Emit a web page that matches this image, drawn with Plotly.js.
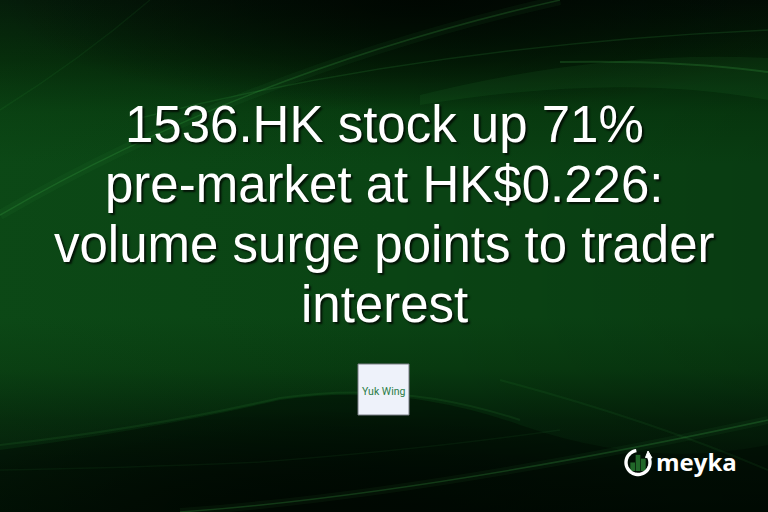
<!DOCTYPE html>
<html>
<head>
<meta charset="utf-8">
<script src="https://cdn.plot.ly/plotly-3.0.1.min.js"></script>
<style>
  html, body { margin: 0; padding: 0; background: #010a03; }
  #card {
    width: 768px; height: 512px;
    background:
      radial-gradient(ellipse 55% 22% at 55% 0%, rgba(0,6,1,0.9) 0%, rgba(0,6,1,0) 100%),
      radial-gradient(ellipse 50% 20% at 40% 100%, rgba(0,6,1,0.8) 0%, rgba(0,6,1,0) 100%),
      linear-gradient(90deg, rgba(20,90,30,0.18) 0%, rgba(0,0,0,0) 50%, rgba(0,0,0,0.12) 100%),
      linear-gradient(180deg, #021006 0%, #042508 12%, #083c10 22%, #0a4414 32%, #0a4414 62%, #083a10 72%, #04230a 82%, #021206 92%, #010c03 100%);
  }
</style>
</head>
<body>
<div id="card"></div>
<script>
const titleLines = [
  '1536.HK stock up 71%',
  'pre-market at HK$0.226:',
  'volume surge points to trader',
  'interest'
];
const companyLabel = 'Yuk Wing';
const brandName = 'meyka';
const logoBars = [0.45, 0.85, 0.65];
const logoBarNames = ['a', 'b', 'c'];

const W = 768, H = 512;

const annotations = titleLines.map((line, i) => ({
  xref: 'x', yref: 'y',
  x: 384, y: 124 + i * 60,
  xanchor: 'center', yanchor: 'middle',
  text: line,
  showarrow: false,
  font: {
    family: 'Liberation Sans, Arial, sans-serif',
    size: 51,
    color: '#ffffff',
    shadow: '2px 2px 2px rgba(0,0,0,0.75)'
  }
}));

annotations.push({
  xref: 'x', yref: 'y', x: 383.5, y: 391,
  xanchor: 'center', yanchor: 'middle',
  text: companyLabel, showarrow: false,
  font: {family: 'Roboto, Noto Sans, sans-serif', size: 10.5, color: '#2b7c47'}
});

annotations.push({
  xref: 'x', yref: 'y', x: 654, y: 461,
  xanchor: 'left', yanchor: 'middle',
  text: '<b>' + brandName + '</b>', showarrow: false,
  font: {family: 'Open Sans, Roboto, sans-serif', size: 24, color: '#ffffff'}
});

// ring of the brand mark, open at the top right
const cx = 638, cy = 462.5, r = 12;
let ring = '';
for (let a = -25; a <= 268; a += 7) {
  const t = a * Math.PI / 180;
  ring += (ring ? ' L ' : 'M ') + (cx + r * Math.cos(t)).toFixed(2) + ',' + (cy + r * Math.sin(t)).toFixed(2);
}

const glow = 'rgba(70,190,80,';
const shapes = [
  // upper swooshes
  {type: 'path', xref: 'x', yref: 'y', path: 'M 0,215 Q 250,70 560,0', line: {color: glow + '0.06)', width: 10}},
  {type: 'path', xref: 'x', yref: 'y', path: 'M 0,215 Q 250,70 560,0', line: {color: glow + '0.2)', width: 1.5}},
  {type: 'path', xref: 'x', yref: 'y', path: 'M 0,110 Q 80,60 150,0', line: {color: glow + '0.08)', width: 1.5}},
  {type: 'path', xref: 'x', yref: 'y', path: 'M 140,118 Q 430,45 768,30', line: {color: glow + '0.15)', width: 1.5}},
  {type: 'path', xref: 'x', yref: 'y', path: 'M 420,95 Q 600,50 768,58 L 768,100 Q 620,72 420,105 Z',
   fillcolor: glow + '0.08)', line: {width: 0}},
  {type: 'path', xref: 'x', yref: 'y', path: 'M 560,62 Q 680,60 768,72', line: {color: glow + '0.2)', width: 2}},
  // lower dark wave and edges
  {type: 'path', xref: 'x', yref: 'y',
   path: 'M 0,450 Q 150,430 280,400 Q 400,382 520,425 Q 650,470 768,445 L 768,512 L 0,512 Z',
   fillcolor: 'rgba(0,8,2,0.45)', line: {width: 0}},
  {type: 'path', xref: 'x', yref: 'y', path: 'M 0,445 Q 150,428 280,398 Q 400,380 520,420', line: {color: glow + '0.1)', width: 2}},
  {type: 'path', xref: 'x', yref: 'y', path: 'M 0,470 Q 120,468 260,462 Q 420,450 560,430', line: {color: glow + '0.07)', width: 1.5}},
  {type: 'path', xref: 'x', yref: 'y', path: 'M 180,512 Q 420,495 768,420', line: {color: glow + '0.06)', width: 8}},
  {type: 'path', xref: 'x', yref: 'y', path: 'M 180,512 Q 420,495 768,420', line: {color: glow + '0.22)', width: 1.5}},
  {type: 'path', xref: 'x', yref: 'y', path: 'M 500,380 Q 650,420 768,470', line: {color: glow + '0.08)', width: 2}},
  // company logo tile
  {type: 'rect', xref: 'x', yref: 'y', x0: 358, x1: 409, y0: 364, y1: 415,
   fillcolor: '#eef2fa', line: {color: '#7a7f86', width: 1}},
  // brand ring and its arrow tip
  {type: 'path', xref: 'x', yref: 'y', path: ring, line: {color: '#ffffff', width: 3.4}},
  {type: 'path', xref: 'x', yref: 'y',
   path: 'M 645.5,457.5 L 652,458 L 648,451 Z', fillcolor: '#ffffff', line: {color: '#ffffff', width: 1}}
];

const data = [{
  type: 'bar',
  x: logoBarNames,
  y: logoBars,
  xaxis: 'x2', yaxis: 'y2',
  marker: {color: '#3db54a', line: {width: 0}},
  hoverinfo: 'skip'
}];

const layout = {
  width: W, height: H,
  margin: {l: 0, r: 0, t: 0, b: 0},
  paper_bgcolor: 'rgba(0,0,0,0)',
  plot_bgcolor: 'rgba(0,0,0,0)',
  showlegend: false,
  xaxis: {range: [0, W], visible: false, fixedrange: true},
  yaxis: {range: [H, 0], visible: false, fixedrange: true},
  xaxis2: {domain: [630 / W, 646 / W], anchor: 'y2', visible: false, fixedrange: true},
  yaxis2: {domain: [1 - 471 / H, 1 - 452 / H], anchor: 'x2', range: [0, 1], visible: false, fixedrange: true},
  bargap: 0.12,
  shapes: shapes,
  annotations: annotations
};

Plotly.newPlot('card', data, layout, {staticPlot: true, displayModeBar: false});
</script>
</body>
</html>
